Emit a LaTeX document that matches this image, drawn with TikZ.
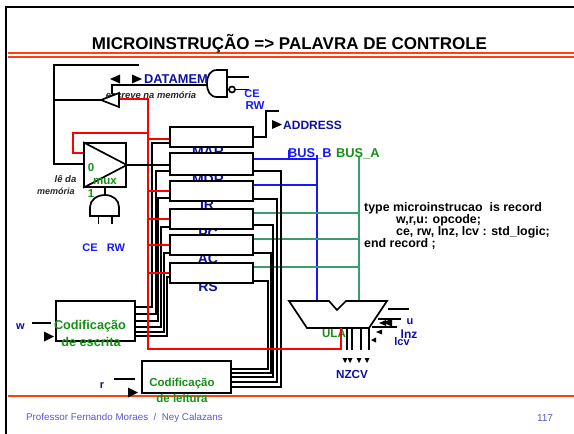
\documentclass[tikz,border=0pt]{standalone}
\usepackage{fontspec}
\setmainfont{Liberation Sans}
\usetikzlibrary{positioning, calc}
\definecolor{slidered}{HTML}{FF4010}
\definecolor{darkblue}{HTML}{1010A0}
\definecolor{brightblue}{HTML}{1818FF}
\definecolor{textgreen}{HTML}{159015}
\definecolor{busgreen}{HTML}{3C9C70}
\definecolor{footblue}{HTML}{5858D8}
\newcommand{\fsz}[1]{\fontsize{#1}{#1}\selectfont}
\tikzset{
    wire/.style={line width=1.7pt},
    redwire/.style={line width=1.7pt, red},
    busblue/.style={line width=1.5pt, brightblue},
    busgr/.style={line width=1.5pt, busgreen},
    regbox/.style={draw, fill=white, line width=1.7pt, inner sep=0pt, minimum width=83pt},
    lab/.style={inner sep=0pt, font=\bfseries\fsz{#1}},
    lab/.default=11
}

\begin{document}
\begin{tikzpicture}[x=1pt, y=-1pt]
    \useasboundingbox[fill=white] (0,0) rectangle (574,434);

    % Slide frame
    \draw[line width=1.3pt] (574,7) -- (6,7) -- (6,434);
    \draw[slidered, line width=1.6pt] (8,53) -- (574,53);
    \draw[slidered, line width=1.6pt] (8,57) -- (574,57);
    \draw[slidered, line width=2.6pt] (8,396) -- (574,396);
    \node[lab=17] (title) at (289.5,44) {MICROINSTRUÇÃO => PALAVRA DE CONTROLE};
    \node[font=\fsz{9.8}, footblue, inner sep=0pt, anchor=west] (foot) at (26,418) {Professor Fernando Moraes\ \ /\ \ Ney Calazans};
    \node[font=\fsz{10}, footblue, inner sep=0pt] (page) at (545,418) {117};

    % Register names sit under the boxes
    \foreach \nm/\lab/\x/\y in {nmar/MAR/208/152, nmdr/MDR/208/179.5, nir/IR/207/205, npc/PC/208/234, nac/AC/208/259, nrs/RS/208/287}
        \node[lab=14, darkblue] (\nm) at (\x,\y) {\lab};

    % Registers
    \foreach \r/\y/\h in {mar/137/20, mdr/164/22, ir/191/20, pc/219/20, ac/245/20, rs/273/20}
        \node[regbox, minimum height=\h pt] (\r) at (211.5,\y) {};

    % Encoders, ULA and mux
    \node[draw, fill=white, line width=1.7pt, minimum width=79pt, minimum height=40pt, inner sep=0pt] (codesc) at (95.5,321) {};
    \node[draw, fill=white, line width=1.7pt, minimum width=89pt, minimum height=32pt, inner sep=0pt] (codlei) at (186.5,377) {};
    \node[draw, fill=white, line width=1.7pt, minimum width=42pt, minimum height=44pt, inner sep=0pt] (mux) at (105,165) {};
    \draw[wire] (mux.north west) -- (mux.east) -- (mux.south west);

    % Buses
    \coordinate (busb) at (317,155);
    \coordinate (busa) at (359,157);
    \draw[busblue] (busb) -- (317,302);
    \draw[busblue] (289,150) -- (289,159);
    \draw[busgr] (busa) -- (359,302);
    \draw[busblue] (mdr.east |- 0,159) -- (317,159);
    \draw[busblue] (ir.east |- 0,185) -- (317,185);
    \foreach \r/\y in {pc/213, ac/239, rs/267}
        \draw[busgr] (\r.east |- 0,\y) -- (359,\y);

    % Control lines of the write encoder
    \foreach \r/\x/\yin/\yout in {mar/152/143/307, mdr/156/171/314, ir/158/198/321, pc/161/227/327, ac/164/253/332, rs/167/277/336}
        \draw[wire] (\r.west |- 0,\yin) -| (\x,\yout) -- (codesc.east |- 0,\yout);

    % Control lines of the read encoder
    \foreach \r/\x/\yin/\yout in {mdr/281/171/387, ir/277/199/382, pc/273/225/377, ac/271/253/373, rs/268/281/369}
        \draw[wire] (\r.east |- 0,\yin) -| (\x,\yout) -- (codlei.east |- 0,\yout);

    % Red control net
    \coordinate (tsbase) at (119,99);
    \coordinate (ulared) at (341,328);
    \draw[redwire] (tsbase) -| (148,349) -| (ulared);
    \draw[redwire] (148,133) -| (73,153) -- (mux.west |- 0,153);
    \foreach \r/\y in {mar/139, ir/191, pc/219, ac/245, rs/273}
        \draw[redwire] (148,\y) -- (\r.west |- 0,\y);

    % Memory side
    \node[font=\bfseries\itshape\fsz{9.4}, inner sep=0pt, black!85] (escreve) at (151,95) {escreve na memória};
    \coordinate (datal) at (112,94);
    \coordinate (nandin) at (207,85);
    \draw[wire] (datal) |- (nandin);
    \draw[wire] (139,65) -| (54,164) -- (mux.west |- 0,164);
    \draw[wire, fill=white] (54,100) -- (101,100) -- (119,93) -- (119,107) -- (101,100);
    \draw[wire] (mux.east) -- (mdr.west |- mux.east);

    % Gates
    \draw[wire, fill=white] (227,70) -- (217,70) .. controls (210,70) and (207,76) .. (207,83.5) .. controls (207,91) and (210,97) .. (217,97) -- (227,97) -- cycle;
    \draw[wire] (227,77) -- (249,77);
    \draw[wire] (235,89.5) -- (249,89.5);
    \draw[wire, fill=white] (232,89.5) circle (3);
    \coordinate (andtop) at (105,195);
    \draw[wire] (mux.south) -- (andtop);
    \draw[wire, fill=white] (90,216) -- (90,207) .. controls (90,200) and (97,195) .. (andtop) .. controls (113,195) and (119,200) .. (119,207) -- (119,216) -- cycle;
    \draw[wire] (98.5,216) -- (98.5,224);
    \draw[wire] (112,216) -- (112,224);

    % Address output
    \coordinate (addr) at (279,111);
    \draw[wire] (mar.east) -| (266,111) -- (addr);

    % ULA
    \draw[wire, fill=white] (289,301) -- (329,301) -- (337,310) -- (346,301) -- (387,301) -- (369,328) -- (307,328) -- cycle;
    \node[lab=11.5, textgreen] (ulalab) at (334,334) {ULA};
    \draw[redwire] (ulared) -- (341,349);
    \foreach \x in {347,352,361,369}
        \draw[wire] (\x,328) -- (\x,350);
    \draw[wire] (388,309) -- (409,309);
    \draw[wire] (378,319) -- (401,319);
    \draw[wire] (372,327) -- (397,327);

    % Overbars on w and r
    \draw[wire] (32,323) -- (51,323);
    \draw[wire] (114,379) -- (135,379);

    % Loose arrow heads
    \foreach \x/\y/\w/\h in {132/79/10/4.5, 272/124.5/10/4.5, 44/336.5/10/5, 128/392.5/10/5}
        \fill (\x,\y-\h) -- (\x+\w,\y) -- (\x,\y+\h) -- cycle;
    \foreach \x/\y/\w/\h in {120/79/10/4.5, 392/322.5/9/4, 386/323/7/3, 382/332/6/2.5, 376/340/5/2.5}
        \fill (\x,\y-\h) -- (\x-\w,\y) -- (\x,\y+\h) -- cycle;
    \foreach \x in {345,350,359,367}
        \fill (\x-2.5,358) -- (\x,363) -- (\x+2.5,358) -- cycle;

    % Labels
    \node[lab=12.8, darkblue, anchor=west] (datamem) at (144,79.5) {DATAMEM};
    \node[lab=11, brightblue] (ce1) at (252,94) {CE};
    \node[lab=11.5, brightblue] (rw1) at (255,106) {RW};
    \node[lab=12, darkblue, anchor=west] (address) at (283,125.5) {ADDRESS};
    \node[lab=12.8, brightblue, anchor=west] (busbl) at (288,154) {BUS\_B};
    \node[lab=12.8, textgreen, anchor=west] (busal) at (336,154) {BUS\_A};
    \node[lab=11.5, textgreen] (m0) at (91,168) {0};
    \node[lab=11.5, textgreen] (mmux) at (105,181) {mux};
    \node[lab=11.5, textgreen] (m1) at (91,194) {1};
    \node[font=\bfseries\itshape\fsz{9.5}, inner sep=0pt, black!85] (leda) at (65.5,179) {lê da};
    \node[font=\bfseries\itshape\fsz{9}, inner sep=0pt, black!85] (memoria) at (56,191) {memória};
    \node[lab=11, brightblue] (ce2) at (90,248) {CE};
    \node[lab=11, brightblue] (rw2) at (116,248) {RW};
    \node[lab=11, darkblue] (wlab) at (20.5,326.5) {w};
    \node[lab=11, darkblue] (rlab) at (102,386) {r};
    \node[lab=12.7, textgreen] (esc1) at (90,326) {Codificação};
    \node[lab=12.7, textgreen] (esc2) at (91,342) {de escrita};
    \node[lab=11.5, textgreen] (lei1) at (182,384) {Codificação};
    \node[lab=11.5, textgreen] (lei2) at (182,398) {de leitura};
    \node[lab=11.7, darkblue] (nzcv) at (352,374) {NZCV};
    \node[lab=11, darkblue] (ulab) at (410,322) {u};
    \node[lab=12, darkblue] (lnz) at (409,334) {lnz};
    \node[lab=11, darkblue] (lcv) at (402,342) {lcv};

    % Record declaration
    \foreach \nm/\x/\y/\txt in {ty1/364/208/{type microinstrucao\ \ is record}, ty2/396/220/{w,r,u: opcode;}, ty3/396/232/{ce, rw, lnz, lcv : std\_logic;}, ty4/364/244/{end record ;}}
        \node[lab=12.4, anchor=west] (\nm) at (\x,\y) {\txt};
\end{tikzpicture}
\end{document}
